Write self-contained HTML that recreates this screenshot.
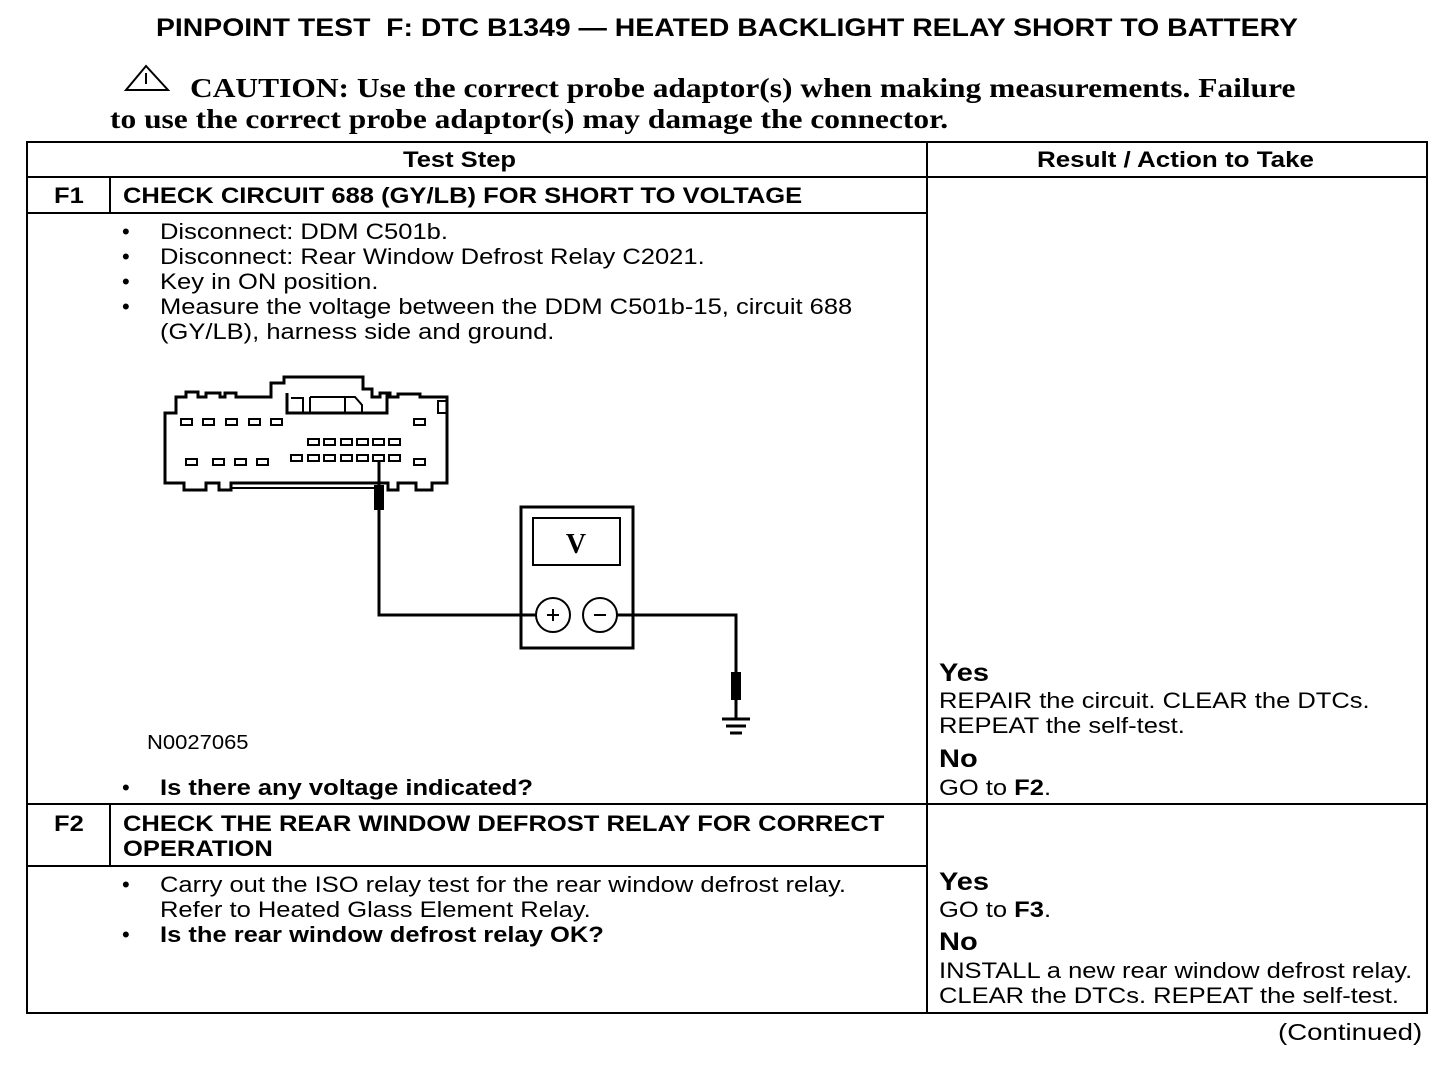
<!DOCTYPE html>
<html><head><meta charset="utf-8"><style>
body{margin:0;width:1456px;height:1066px;background:#fff;position:relative;overflow:hidden;font-family:"Liberation Sans",Arial,sans-serif;color:#000}
.t{position:absolute;white-space:nowrap;font-size:22px;line-height:25px;transform:scaleX(1.16);transform-origin:0 0}
.b{font-weight:bold}
.s{font-family:"Liberation Serif",serif;font-weight:bold;font-size:27px;transform:scaleX(1.165)}
svg{position:absolute;left:0;top:0}
</style></head><body>
<svg width="1456" height="1066">
<g stroke="#000" fill="none" stroke-width="2">
<rect x="27" y="142" width="1400" height="871"/>
<line x1="927" y1="142" x2="927" y2="1013"/>
<line x1="27" y1="177" x2="1427" y2="177"/>
<line x1="27" y1="213" x2="927" y2="213"/>
<line x1="27" y1="804" x2="1427" y2="804"/>
<line x1="27" y1="866" x2="927" y2="866"/>
<line x1="110" y1="177" x2="110" y2="213"/>
<line x1="110" y1="804" x2="110" y2="866"/>
</g>
<g stroke="#000" fill="none" stroke-width="2"><path d="M126 90 L146 66 L168 90 Z"/><line x1="146" y1="73" x2="146" y2="84"/></g>
<g stroke="#000" fill="none" stroke-width="3">
<path d="M165 483 L165 413 L176 413 L176 397 L186 397 L186 392 L198 392 L198 397 L206 397 L206 393 L220 393 L220 397 L225 397 L225 393 L236 393 L236 397 L271 397 L271 383 L284 383 L284 377 L363 377 L363 389 L372 389 L372 397 L380 397 L380 393 L390 393 L390 397 L398 397 L398 394 L420 394 L420 397 L447 397 L447 483 L432 483 L432 490 L416 490 L416 483 L398 483 L398 490 L388 490 L388 483 L231 483 L231 490 L219 490 L219 483 L206 483 L206 490 L184 490 L184 483 Z"/>
<path d="M287 393 L287 413 L387 413 L387 393"/>
<path d="M291 398 L303 398 L303 413 M345 397 L355 397 L362 405 L362 413 M310 397 L345 397 L345 413 M310 397 L310 413" stroke-width="2"/>
<line x1="232" y1="488" x2="380" y2="488" stroke-width="2"/>
<rect x="438" y="401" width="9" height="12" stroke-width="2"/>
</g>
<g fill="#fff" stroke="#000" stroke-width="2">
<rect x="181" y="419" width="11" height="6"/><rect x="203" y="419" width="11" height="6"/><rect x="226" y="419" width="11" height="6"/><rect x="249" y="419" width="11" height="6"/><rect x="271" y="419" width="11" height="6"/><rect x="414" y="419" width="11" height="6"/>
<rect x="308" y="439" width="11" height="6"/><rect x="324" y="439" width="11" height="6"/><rect x="341" y="439" width="11" height="6"/><rect x="357" y="439" width="11" height="6"/><rect x="373" y="439" width="11" height="6"/><rect x="389" y="439" width="11" height="6"/>
<rect x="186" y="459" width="11" height="6"/><rect x="213" y="459" width="11" height="6"/><rect x="235" y="459" width="11" height="6"/><rect x="257" y="459" width="11" height="6"/>
<rect x="291" y="455" width="11" height="6"/><rect x="308" y="455" width="11" height="6"/><rect x="324" y="455" width="11" height="6"/><rect x="341" y="455" width="11" height="6"/><rect x="357" y="455" width="11" height="6"/><rect x="373" y="455" width="11" height="6"/><rect x="389" y="455" width="11" height="6"/><rect x="414" y="459" width="11" height="6"/>
</g>
<g stroke="#000" fill="none" stroke-width="3">
<path d="M379 461 L379 615 L536 615"/>
<path d="M617 615 L736 615 L736 719"/>
<rect x="521" y="507" width="112" height="141"/>
<rect x="533" y="518" width="87" height="47" stroke-width="2"/>
</g>
<rect x="374" y="485" width="10" height="25" fill="#000"/>
<rect x="731" y="672" width="10" height="28" fill="#000"/>
<g stroke="#000" stroke-width="2" fill="#fff">
<circle cx="553" cy="615" r="17"/><circle cx="600" cy="615" r="17"/>
<line x1="547" y1="615" x2="559" y2="615"/><line x1="553" y1="609" x2="553" y2="621"/><line x1="594" y1="615" x2="606" y2="615"/>
</g>
<g stroke="#000" stroke-width="3"><line x1="722" y1="719" x2="750" y2="719"/><line x1="726" y1="726" x2="746" y2="726"/><line x1="730" y1="733" x2="742" y2="733"/></g>
<text x="576" y="553" font-family="Liberation Serif,serif" font-weight="bold" font-size="28" text-anchor="middle">V</text>
</svg>
<div class="t b" style="left:156px;top:13px;font-size:25px;line-height:30px;transform:scaleX(1.135)">PINPOINT TEST&nbsp; F: DTC B1349 — HEATED BACKLIGHT RELAY SHORT TO BATTERY</div>
<div class="t s" style="left:190px;top:73px;line-height:31px">CAUTION: Use the correct probe adaptor(s) when making measurements. Failure</div>
<div class="t s" style="left:110px;top:104px;line-height:31px">to use the correct probe adaptor(s) may damage the connector.</div>
<div class="t b" style="left:403px;top:147px">Test Step</div>
<div class="t b" style="left:1037px;top:147px;transform:scaleX(1.18)">Result / Action to Take</div>
<div class="t b" style="left:54px;top:183px">F1</div>
<div class="t b" style="left:123px;top:183px">CHECK CIRCUIT 688 (GY/LB) FOR SHORT TO VOLTAGE</div>
<div class="t" style="left:122px;top:219px;transform:none">•<br>•<br>•<br>•</div>
<div class="t" style="left:160px;top:219px">Disconnect: DDM C501b.<br>Disconnect: Rear Window Defrost Relay C2021.<br>Key in ON position.<br>Measure the voltage between the DDM C501b-15, circuit 688<br>(GY/LB), harness side and ground.</div>
<div class="t" style="left:147px;top:731px;font-size:20px;transform:scaleX(1.1)">N0027065</div>
<div class="t" style="left:122px;top:775px;transform:none">•</div>
<div class="t b" style="left:160px;top:775px">Is there any voltage indicated?</div>
<div class="t b" style="left:939px;top:661px;font-size:25px">Yes</div>
<div class="t" style="left:939px;top:688px">REPAIR the circuit. CLEAR the DTCs.<br>REPEAT the self-test.</div>
<div class="t b" style="left:939px;top:747px;font-size:25px">No</div>
<div class="t" style="left:939px;top:775px">GO to <b>F2</b>.</div>
<div class="t b" style="left:54px;top:811px">F2</div>
<div class="t b" style="left:123px;top:811px">CHECK THE REAR WINDOW DEFROST RELAY FOR CORRECT<br>OPERATION</div>
<div class="t" style="left:122px;top:872px;transform:none">•<br><br>•</div>
<div class="t" style="left:160px;top:872px">Carry out the ISO relay test for the rear window defrost relay.<br>Refer to Heated Glass Element Relay.<br><b>Is the rear window defrost relay OK?</b></div>
<div class="t b" style="left:939px;top:870px;font-size:25px">Yes</div>
<div class="t" style="left:939px;top:897px">GO to <b>F3</b>.</div>
<div class="t b" style="left:939px;top:930px;font-size:25px">No</div>
<div class="t" style="left:939px;top:958px">INSTALL a new rear window defrost relay.<br>CLEAR the DTCs. REPEAT the self-test.</div>
<div class="t" style="left:1278px;top:1020px;font-size:23px;transform:scaleX(1.2)">(Continued)</div>
</body></html>
